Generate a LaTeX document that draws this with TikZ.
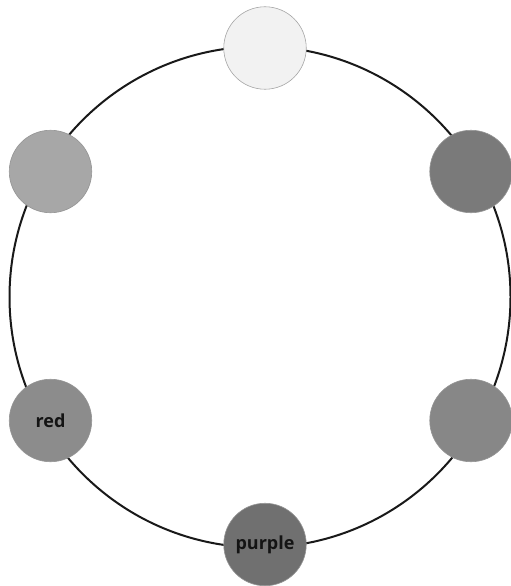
\documentclass[tikz,border=0pt]{standalone}
\usepackage{fontspec}
\setmainfont{Open Sans}
\definecolor{cTop}{gray}{0.95}
\definecolor{cUL}{gray}{0.655}
\definecolor{cUR}{gray}{0.48}
\definecolor{cLL}{gray}{0.55}
\definecolor{cLR}{gray}{0.53}
\definecolor{cBot}{gray}{0.44}
\definecolor{ringcol}{gray}{0.1}
\tikzset{
  dot/.style={circle, minimum size=82.5pt, inner sep=0pt, draw=gray!60!black!60, line width=0.6pt,
    font=\bfseries\fontsize{18}{20}\selectfont, text=black!92},
  ring/.style={draw=ringcol, line width=2pt}
}
\begin{document}
\begin{tikzpicture}[x=1pt,y=-1pt]
\useasboundingbox (0,0) rectangle (511,586);
\coordinate (c) at (260,297);
\draw[ring] (c) circle[radius=250.5];
\node[dot, fill=cTop, draw=gray!70] (top) at (265,48) {};
\node[dot, fill=cUL] (ul) at (50.5,171.5) {};
\node[dot, fill=cUR] (ur) at (471,171.5) {};
\node[dot, fill=cLL] (ll) at (50.5,420.5) {red};
\node[dot, fill=cLR] (lr) at (471,420.5) {};
\node[dot, fill=cBot] (bot) at (265,544.5) {purple};
\end{tikzpicture}
\end{document}
